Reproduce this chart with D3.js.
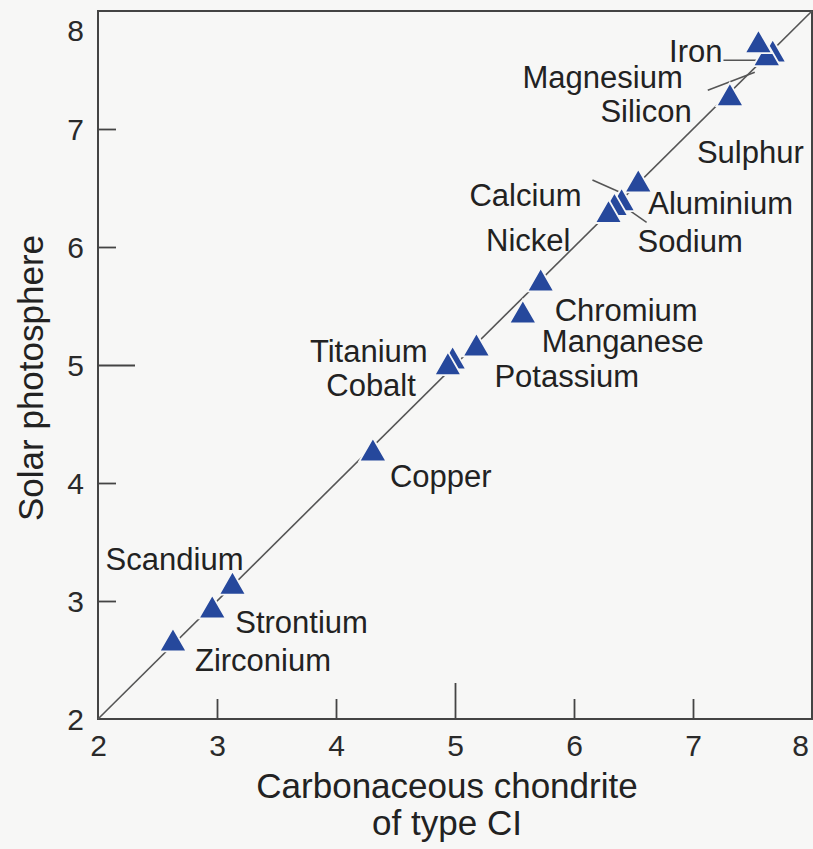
<!DOCTYPE html>
<html>
<head>
<meta charset="utf-8">
<script src="https://cdn.jsdelivr.net/npm/d3@7"></script>
<style>
    body { margin: 0; background: #f7f7f6; }
    svg { display: block; font-family: "Liberation Sans", Arial, Helvetica, sans-serif; }
</style>
</head>
<body>
<div id="chart"></div>
<script>
// Abundances
const elements = ['Iron', 'Magnesium', 'Silicon', 'Sulphur', 'Aluminium', 'Sodium', 'Calcium', 'Nickel',
    'Chromium', 'Manganese', 'Potassium', 'Titanium', 'Cobalt', 'Copper', 'Scandium', 'Strontium', 'Zirconium'];
const chondrite = [7.55, 7.62, 7.67, 7.31, 6.54, 6.40, 6.34, 6.29, 5.72, 5.57, 5.18, 4.98, 4.94, 4.31, 3.13, 2.96, 2.63];
const photosphere = [7.71, 7.60, 7.63, 7.26, 6.53, 6.37, 6.33, 6.27, 5.69, 5.42, 5.14, 5.03, 4.98, 4.25, 3.12, 2.92, 2.64];
const tickValues = [2, 3, 4, 5, 6, 7, 8];

// label placement relative to the marker: [anchor, dx, dy]
const labelPos = {
    Iron: ['end', -36, 17], Magnesium: ['end', -84, 30], Silicon: ['end', -81, 67], Sulphur: ['start', -33, 65],
    Aluminium: ['start', 10, 30], Sodium: ['start', 16, 49], Calcium: ['end', -33, -2], Nickel: ['end', -38, 36],
    Chromium: ['start', 14, 37], Manganese: ['start', 19, 37], Potassium: ['start', 18, 39],
    Titanium: ['end', -25, 1], Cobalt: ['end', -32, 29], Copper: ['start', 17, 33],
    Scandium: ['end', 11, -17], Strontium: ['start', 23, 23], Zirconium: ['start', 22, 28]
};
// leader lines relative to the marker
const leaders = {
    Iron: [-35, 15, -1, 15], Magnesium: [-59, 32, -12, 14],
    Calcium: [-22, -28, 5, -16], Sodium: [25, 19, 5, 5]
};

const width = 813, height = 849;
const margin = {left: 98, right: 1, top: 11, bottom: 130};

const data = elements.map((e, i) => ({name: e, x: chondrite[i], y: photosphere[i]}));

const x = d3.scaleLinear().domain([2, 8]).range([margin.left, width - margin.right]);
const y = d3.scaleLinear().domain([2, 8]).range([height - margin.bottom, margin.top]);

const svg = d3.select('#chart')
    .append('svg')
        .attr('width', width)
        .attr('height', height);

svg.append('rect')
    .attr('width', width).attr('height', height)
    .attr('fill', '#f7f7f6');

// axes, ticks pointing inward
const xAxis = svg.append('g')
    .attr('transform', `translate(0,${y(2)})`)
    .call(d3.axisBottom(x).tickValues(tickValues).tickFormat(d3.format('d'))
        .tickSizeInner(-20).tickSizeOuter(0).tickPadding(16));
const yAxis = svg.append('g')
    .attr('transform', `translate(${x(2)},0)`)
    .call(d3.axisLeft(y).tickValues(tickValues).tickFormat(d3.format('d'))
        .tickSizeInner(-18).tickSizeOuter(0).tickPadding(14));

[xAxis, yAxis].forEach(g => {
    g.select('.domain').remove();
    g.selectAll('.tick text')
        .attr('font-size', 30)
        .attr('fill', '#2a2a2a')
        .attr('font-family', '"Liberation Sans", Arial, sans-serif');
    g.selectAll('.tick line')
        .attr('stroke', '#444')
        .attr('stroke-width', 1.8);
});
xAxis.selectAll('.tick line')
    .attr('y2', d => d === 5 ? -36 : (d === 2 || d === 8 ? 0 : -20));
yAxis.selectAll('.tick line')
    .attr('x2', d => d === 5 ? 37 : (d === 2 || d === 8 ? 0 : 18));
yAxis.selectAll('.tick text').attr('dy', '0.36em');
// corner labels nudged inside the page
xAxis.selectAll('.tick text').filter(d => d === 8).attr('x', -12);
yAxis.selectAll('.tick text').filter(d => d === 8).attr('y', 19);

// frame
svg.append('rect')
    .attr('x', x(2)).attr('y', y(8))
    .attr('width', x(8) - x(2)).attr('height', y(2) - y(8))
    .attr('fill', 'none')
    .attr('stroke', '#444')
    .attr('stroke-width', 2);

// 1:1 line
svg.append('line')
    .attr('x1', x(2)).attr('y1', y(2))
    .attr('x2', x(8)).attr('y2', y(8))
    .attr('stroke', '#555')
    .attr('stroke-width', 1.6);

// leader lines
svg.append('g').selectAll('line')
    .data(data.filter(d => leaders[d.name]))
    .enter()
    .append('line')
        .attr('x1', d => x(d.x) + leaders[d.name][0])
        .attr('y1', d => y(d.y) + leaders[d.name][1])
        .attr('x2', d => x(d.x) + leaders[d.name][2])
        .attr('y2', d => y(d.y) + leaders[d.name][3])
        .attr('stroke', '#555')
        .attr('stroke-width', 1.5);

// markers, upper right first so the lower ones sit on top
const triangle = d3.symbol().type(d3.symbolTriangle).size(320);
svg.append('g').selectAll('path')
    .data(data.slice().sort((a, b) => b.x - a.x))
    .enter()
    .append('path')
        .attr('d', triangle)
        .attr('transform', d => `translate(${x(d.x)},${y(d.y)})`)
        .attr('fill', '#26489c')
        .attr('stroke', '#f7f7f6')
        .attr('stroke-width', 1.8);

// labels
svg.append('g').selectAll('text')
    .data(data)
    .enter()
    .append('text')
        .attr('x', d => x(d.x) + labelPos[d.name][1])
        .attr('y', d => y(d.y) + labelPos[d.name][2])
        .attr('text-anchor', d => labelPos[d.name][0])
        .attr('font-size', 31)
        .attr('fill', '#222')
        .text(d => d.name);

// axis titles
const xTitle = svg.append('text')
    .attr('text-anchor', 'middle')
    .attr('font-size', 35)
    .attr('fill', '#222');
xTitle.append('tspan').attr('x', 447).attr('y', 798).text('Carbonaceous chondrite');
xTitle.append('tspan').attr('x', 447).attr('y', 835).text('of type CI');

svg.append('text')
    .attr('transform', 'translate(43,378) rotate(-90)')
    .attr('text-anchor', 'middle')
    .attr('font-size', 35)
    .attr('fill', '#222')
    .text('Solar photosphere');
</script>
</body>
</html>
